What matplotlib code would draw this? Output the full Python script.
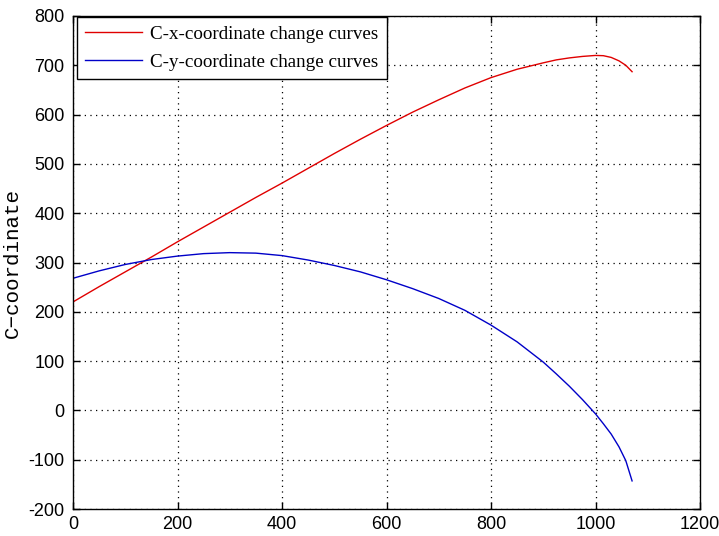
import matplotlib
matplotlib.use("Agg")
import matplotlib.pyplot as plt

# Sampled trajectory of point C
x_vals = [0, 50, 100, 150, 200, 250, 300, 350, 400, 450, 500, 550, 600,
          650, 700, 750, 800, 850, 900, 925, 950, 975, 1000, 1015, 1030,
          1045, 1058, 1070]
cx_vals = [220, 251, 281, 311, 342, 372, 402, 432, 461, 491, 521, 550, 578,
           605, 630, 654, 675, 692, 705, 711, 715, 718, 720, 719.5, 716,
           709, 700, 687]
cy_vals = [268, 283, 296, 306, 313, 318, 320, 319, 314, 305, 294, 281, 265,
           247, 227, 203, 173, 139, 98, 74, 49, 22, -7, -27, -48,
           -74, -102, -143]

series_labels = ["C-x-coordinate change curves", "C-y-coordinate change curves"]
y_label = "C\u2212coordinate"
x_ticks = [0, 200, 400, 600, 800, 1000, 1200]
y_ticks = [-200, -100, 0, 100, 200, 300, 400, 500, 600, 700, 800]

tick_font = ["Liberation Sans Narrow", "Liberation Sans", "DejaVu Sans"]

fig = plt.figure(figsize=(7.19, 5.36), dpi=100)
ax = fig.add_axes([73 / 719, 1 - 509 / 536, 627 / 719, 493 / 536])

ax.plot(x_vals, cx_vals, color="#e00000", lw=1.0, label=series_labels[0])
ax.plot(x_vals, cy_vals, color="#0000c8", lw=1.0, label=series_labels[1])

ax.set_xlim(0, 1200)
ax.set_ylim(-200, 800)
ax.set_xticks(x_ticks)
ax.set_yticks(y_ticks)
ax.set_xticklabels([str(t) for t in x_ticks], family=tick_font, fontsize=13)
ax.set_yticklabels([str(t) for t in y_ticks], family=tick_font, fontsize=13)
ax.tick_params(direction="in", length=5, width=1, top=True, right=True,
               color="black")
ax.tick_params(axis="x", pad=5)
ax.tick_params(axis="y", pad=6)
for sp in ax.spines.values():
    sp.set_linewidth(1.0)
    sp.set_color("black")

ax.grid(True, color="black", linestyle=(0, (1, 3.5)), linewidth=0.9)
ax.set_axisbelow(True)

ax.set_ylabel(y_label, family=["Liberation Mono", "DejaVu Sans Mono"],
              fontsize=15)
ax.yaxis.set_label_coords(-0.082, 0.5)

leg = ax.legend(loc="upper left", bbox_to_anchor=(0.006, 0.998),
                prop={"family": ["Liberation Serif", "DejaVu Serif"], "size": 13.7},
                frameon=True, fancybox=False, framealpha=1, edgecolor="black",
                borderaxespad=0, handlelength=3.0, handletextpad=0.4,
                borderpad=0.45, labelspacing=0.55)
leg.get_frame().set_linewidth(1.0)

fig.savefig("out.png", dpi=100)
